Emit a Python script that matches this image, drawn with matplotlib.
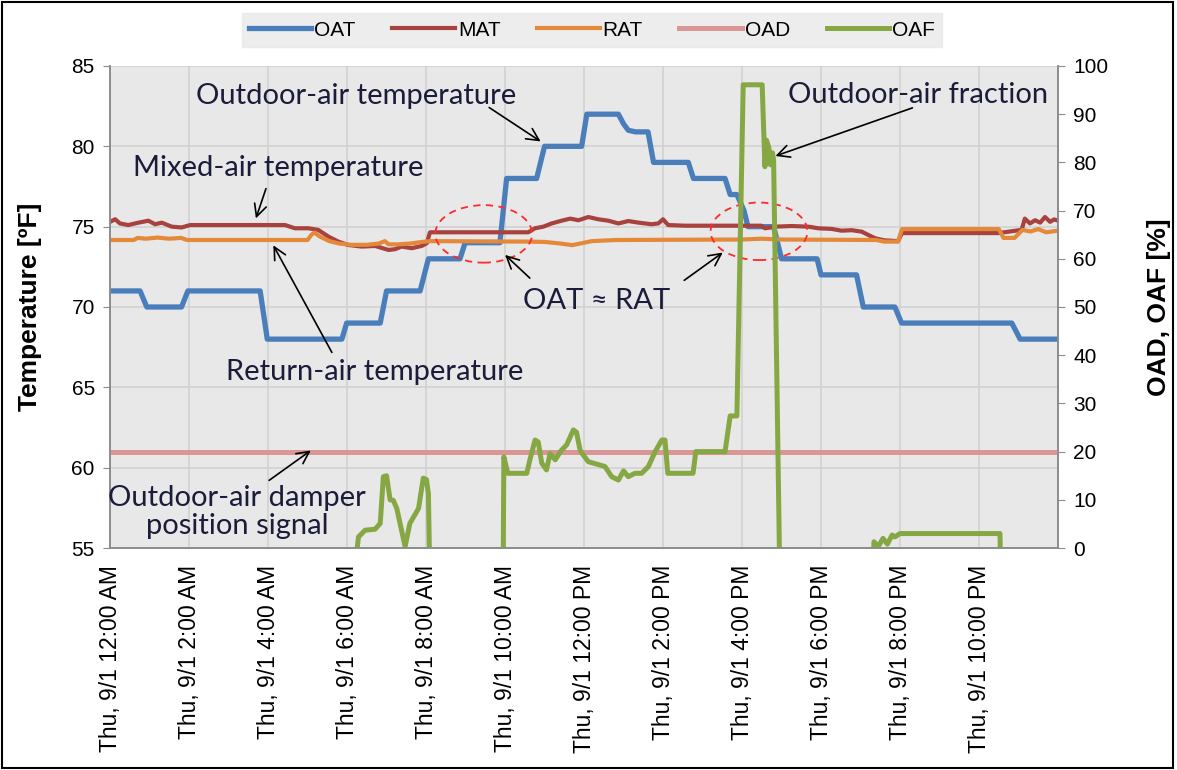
import matplotlib
matplotlib.use("Agg")
import matplotlib.pyplot as plt
from matplotlib.patches import Ellipse, Rectangle

# hours after midnight, Thu 9/1
oat_h = [0, 0.76, 0.93, 1.81, 1.97, 3.8, 3.98, 5.87, 5.99, 6.84, 7.0, 7.85, 8.06,
         8.86, 8.99, 9.87, 10.04, 10.8, 11.0, 11.94, 12.07, 12.87, 13.0, 13.12,
         13.3, 13.62, 13.76, 14.64, 14.77, 15.57, 15.7, 15.87, 16.05, 16.15, 16.8,
         17.0, 17.9, 18.0, 18.9, 19.07, 19.87, 20.04, 22.83, 23.04, 24]
oat = [71, 71, 70, 70, 71, 71, 68, 68, 69, 69, 71, 71, 73,
       73, 74, 74, 78, 78, 80, 80, 82, 82, 81.4, 81.0,
       80.9, 80.9, 79, 79, 78, 78, 77, 77, 76, 75, 75,
       73, 73, 72, 72, 70, 70, 69, 69, 68, 68]

mat_h = [0, 0.13, 0.25, 0.46, 0.72, 0.97, 1.14, 1.31, 1.56, 1.81, 2.03, 4.43, 4.68,
         5.02, 5.27, 5.53, 5.78, 6.03, 6.37, 6.71, 7.05, 7.22, 7.38, 7.64, 7.89,
         8.02, 8.1, 10.59, 10.76, 10.97, 11.18, 11.43, 11.65, 11.86, 12.11, 12.36,
         12.62, 12.87, 13.12, 13.38, 13.71, 13.88, 14.0, 14.13, 14.56, 16.49, 16.58,
         16.84, 17.26, 17.68, 17.93, 18.27, 18.52, 18.78, 19.03, 19.2, 19.37, 19.6,
         19.95, 20.05, 22.49, 23.08, 23.16, 23.29, 23.42, 23.55, 23.67, 23.8, 23.9, 24]
mat = [75.3, 75.46, 75.2, 75.1, 75.25, 75.37, 75.15, 75.25, 75.0, 74.95, 75.1, 75.1, 74.9,
       74.9, 74.8, 74.38, 74.07, 73.86, 73.76, 73.8, 73.55, 73.6, 73.76, 73.66, 73.8,
       73.97, 74.65, 74.65, 74.9, 75.0, 75.2, 75.37, 75.5, 75.4, 75.6, 75.46,
       75.37, 75.2, 75.35, 75.25, 75.15, 75.2, 75.46, 75.1, 75.06, 75.06, 74.9,
       75.0, 75.04, 75.0, 74.9, 74.86, 74.75, 74.78, 74.69, 74.48, 74.28, 74.15,
       74.1, 74.6, 74.6, 74.8, 75.5, 75.2, 75.4, 75.25, 75.6, 75.3, 75.45, 75.37]

rat_h = [0, 0.6, 0.7, 0.9, 1.2, 1.5, 1.8, 1.95, 5.0, 5.1, 5.18, 5.3, 5.55, 5.8, 6.1,
         6.5, 6.8, 6.96, 7.05, 7.3, 7.6, 7.9, 8.1, 10.6, 11.0, 11.4, 11.7, 11.9,
         12.2, 12.8, 16.0, 16.5, 17.0, 19.4, 19.6, 19.95, 20.05, 22.5, 22.62, 22.9,
         23.0, 23.1, 23.3, 23.5, 23.7, 24]
rat = [74.17, 74.17, 74.3, 74.25, 74.32, 74.25, 74.3, 74.17, 74.17, 74.5, 74.63, 74.4,
       74.1, 73.95, 73.87, 73.87, 73.95, 74.1, 73.9, 73.9, 73.95, 74.05, 74.1, 74.07,
       74.05, 73.95, 73.85, 73.95, 74.1, 74.17, 74.2, 74.25, 74.2, 74.17, 74.07, 74.07,
       74.85, 74.85, 74.3, 74.3, 74.55, 74.8, 74.7, 74.85, 74.65, 74.75]

oad_h = [0, 24]
oad = [20, 20]

# values below the axis floor are off-scale (negative fraction)
oaf_h = [0, 6.14, 6.29, 6.46, 6.71, 6.84, 6.92, 7.0, 7.09, 7.17, 7.26, 7.47, 7.59,
         7.81, 7.93, 8.01, 8.06, 8.1, 9.95, 9.97, 10.07, 10.55, 10.63, 10.76, 10.84,
         10.93, 11.05, 11.14, 11.27, 11.43, 11.56, 11.73, 11.81, 11.9, 11.98, 12.11,
         12.28, 12.53, 12.7, 12.87, 13.0, 13.12, 13.29, 13.46, 13.63, 13.8, 13.97,
         14.05, 14.12, 14.76, 14.83, 15.57, 15.7, 15.87, 16.03, 16.51, 16.58, 16.62,
         16.68, 16.72, 16.77, 16.8, 16.96, 19.3, 19.34, 19.45, 19.57, 19.68, 19.8,
         19.87, 20.0, 22.53, 22.56, 24]
oaf = [-8, -8, 2.3, 3.7, 3.9, 5.1, 14.8, 15, 10, 9.9, 8.2, 0.3, 5.1,
       8.2, 14.5, 14.2, 11.3, -8, -8, 18.9, 15.5, 15.5, 18.3, 22.4, 22.0,
       17.6, 16.2, 19.6, 18.3, 20.3, 21.4, 24.5, 24.0, 20.3, 19.3, 17.9,
       17.5, 16.9, 14.8, 14.1, 16.0, 14.8, 15.5, 15.5, 16.9, 20.0, 22.4,
       22.4, 15.5, 15.5, 20.0, 20.0, 27.4, 27.4, 96.1, 96.1, 79.1, 84.6,
       83.0, 79.5, 82.0, 80.5, -8, -8, 1.3, 0.3, 2.0, 0.8, 2.7,
       2.3, 3.0, 3.0, -8, -8]

tick_hours = list(range(0, 24, 2))
tick_labels = ["Thu, 9/1 12:00 AM", "Thu, 9/1 2:00 AM", "Thu, 9/1 4:00 AM",
               "Thu, 9/1 6:00 AM", "Thu, 9/1 8:00 AM", "Thu, 9/1 10:00 AM",
               "Thu, 9/1 12:00 PM", "Thu, 9/1 2:00 PM", "Thu, 9/1 4:00 PM",
               "Thu, 9/1 6:00 PM", "Thu, 9/1 8:00 PM", "Thu, 9/1 10:00 PM"]

plt.rcParams["font.family"] = ["Liberation Sans", "DejaVu Sans"]
NOTE_FONT = ["Lato", "DejaVu Sans"]
NOTE_COLOR = "#1b1b3a"

fig = plt.figure(figsize=(11.77, 7.70), dpi=100)
ax = fig.add_axes([0.0935, 0.2883, 0.8054, 0.626])
ax2 = ax.twinx()

ax.set_facecolor("#e8e8e8")
ax.plot(oat_h, oat, color="#4a7ebb", lw=3.8, label="OAT", solid_joinstyle="round")
ax.plot(mat_h, mat, color="#a8423f", lw=3.0, label="MAT")
ax.plot(rat_h, rat, color="#e4883a", lw=3.0, label="RAT")
ax2.plot(oad_h, oad, color="#d99694", lw=3.6, label="OAD")
ax2.plot(oaf_h, oaf, color="#86a844", lw=3.6, label="OAF")

ax.set_xlim(0, 24)
ax.set_ylim(55, 85)
ax2.set_ylim(0, 100)
ax.set_yticks(range(55, 86, 5))
ax2.set_yticks(range(0, 101, 10))
ax.set_xticks(tick_hours)
ax.set_xticklabels(tick_labels, rotation=90, fontsize=16.5)
ax.grid(True, color="#d2d2d2", lw=1.2)
ax.set_axisbelow(True)

for a in (ax, ax2):
    a.spines["top"].set_visible(False)
    for side in ("left", "right", "bottom"):
        a.spines[side].set_color("#8c8c8c")
        a.spines[side].set_linewidth(1.2)
ax.tick_params(axis="y", labelsize=15, length=5, color="#8c8c8c", pad=6)
ax.tick_params(axis="x", length=0, pad=12)
ax2.tick_params(axis="y", labelsize=15, length=5, color="#8c8c8c", pad=6)

ax.set_ylabel("Temperature [ºF]", fontsize=19, fontweight="bold")
ax.yaxis.set_label_coords(-0.072, 0.5)
ax2.set_ylabel("OAD, OAF [%]", fontsize=19, fontweight="bold")
ax2.yaxis.set_label_coords(1.094, 0.5)

handles = ax.get_lines() + ax2.get_lines()
leg = fig.legend(handles, [h.get_label() for h in handles], ncol=5,
                 loc="center", bbox_to_anchor=(592 / 1177, 1 - 30 / 770),
                 fontsize=15, frameon=True, fancybox=False, handlelength=3.0,
                 handletextpad=0.15, columnspacing=1.75, borderpad=0.35)
leg.get_frame().set_facecolor("#e9e9e9")
leg.get_frame().set_edgecolor("#e9e9e9")

T = ax.transData
arrow = dict(arrowstyle="->", color="black", lw=1.2, mutation_scale=22)
notes = [
    ("Outdoor-air temperature", (6.23, 83.13), (10.96, 80.21), (9.54, 82.51)),
    ("Mixed-air temperature", (4.25, 78.65), (3.67, 75.35), (3.97, 77.53)),
    ("Return-air temperature", (6.71, 65.96), (4.1, 73.99), (5.65, 67.02)),
    ("Outdoor-air damper\nposition signal", (3.22, 57.25), (5.14, 61.17), (3.97, 59.11)),
    ("Outdoor-air fraction", (20.45, 83.2), (16.78, 79.34), (20.38, 82.45)),
    ("OAT ≈ RAT", (12.33, 70.38), (9.95, 73.36), (10.68, 71.68)),
]
for text, pos, head, tail in notes:
    ax2.text(pos[0], pos[1], text, transform=T, ha="center", va="center",
             fontsize=21, family=NOTE_FONT, color=NOTE_COLOR, linespacing=1.1)
    ax2.annotate("", xy=head, xycoords=T, xytext=tail, textcoords=T,
                 arrowprops=arrow)
ax2.annotate("", xy=(15.57, 73.49), xycoords=T, xytext=(14.48, 71.56),
             textcoords=T, arrowprops=arrow)

for cx, cy in [(9.46, 74.55), (16.43, 74.71)]:
    ax2.add_patch(Ellipse((cx, cy), 2.45, 3.58, transform=T, fill=False,
                          ec="#ff2a2a", lw=1.3, ls=(0, (4, 3))))

fig.add_artist(Rectangle((0.002, 0.002), 0.995, 0.995, transform=fig.transFigure,
                         fill=False, ec="black", lw=1.5))

fig.savefig("out.png", dpi=100)
